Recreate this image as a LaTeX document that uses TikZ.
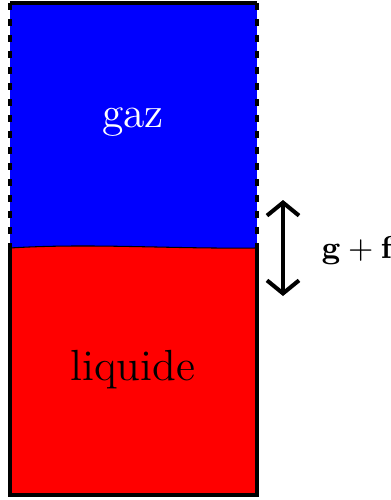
\documentclass[tikz,border=0pt]{standalone}
\usepackage{amsmath,amssymb}
\usetikzlibrary{arrows.meta}

\begin{document}
\begin{tikzpicture}[x=0.01cm, y=-0.01cm, font=\fontsize{12.4}{15}\selectfont,
  wall/.style={line width=1.15pt},
  porous/.style={line width=1.4pt, dash pattern=on 0.07cm off 0.09cm},
  force/.style={line width=1.15pt, {Straight Barb[length=0.13cm, width=0.32cm]}-{Straight Barb[length=0.13cm, width=0.32cm]}}]
  \useasboundingbox (0,0) rectangle (390,500);

  % gaz au-dessus, liquide en dessous
  \fill[blue] (10,3) rectangle (257,250);
  \fill[red] (10,248) .. controls (90,243) and (170,249) .. (257,248) -- (257,495) -- (10,495) -- cycle;
  \draw[line width=0.3pt] (10,248) .. controls (90,243) and (170,249) .. (257,248);

  % parois
  \draw[wall] (10,3) -- (257,3);
  \draw[wall] (10,248) -- (10,495) -- (257,495) -- (257,248);
  \draw[porous] (10,3) -- (10,248);
  \draw[porous] (257,3) -- (257,248);

  \node[white] (gaz) at (133,122) {gaz};
  \node (liquide) at (133,370) {liquide};

  \coordinate (haut) at (283,200);
  \coordinate (bas) at (283,296);
  \draw[force] (haut) -- (bas);
  \node[anchor=west, inner sep=0pt, font=\fontsize{9.4}{11}\selectfont] (gf) at (321,251) {$\mathbf{g}+\mathbf{f}$};
\end{tikzpicture}
\end{document}
